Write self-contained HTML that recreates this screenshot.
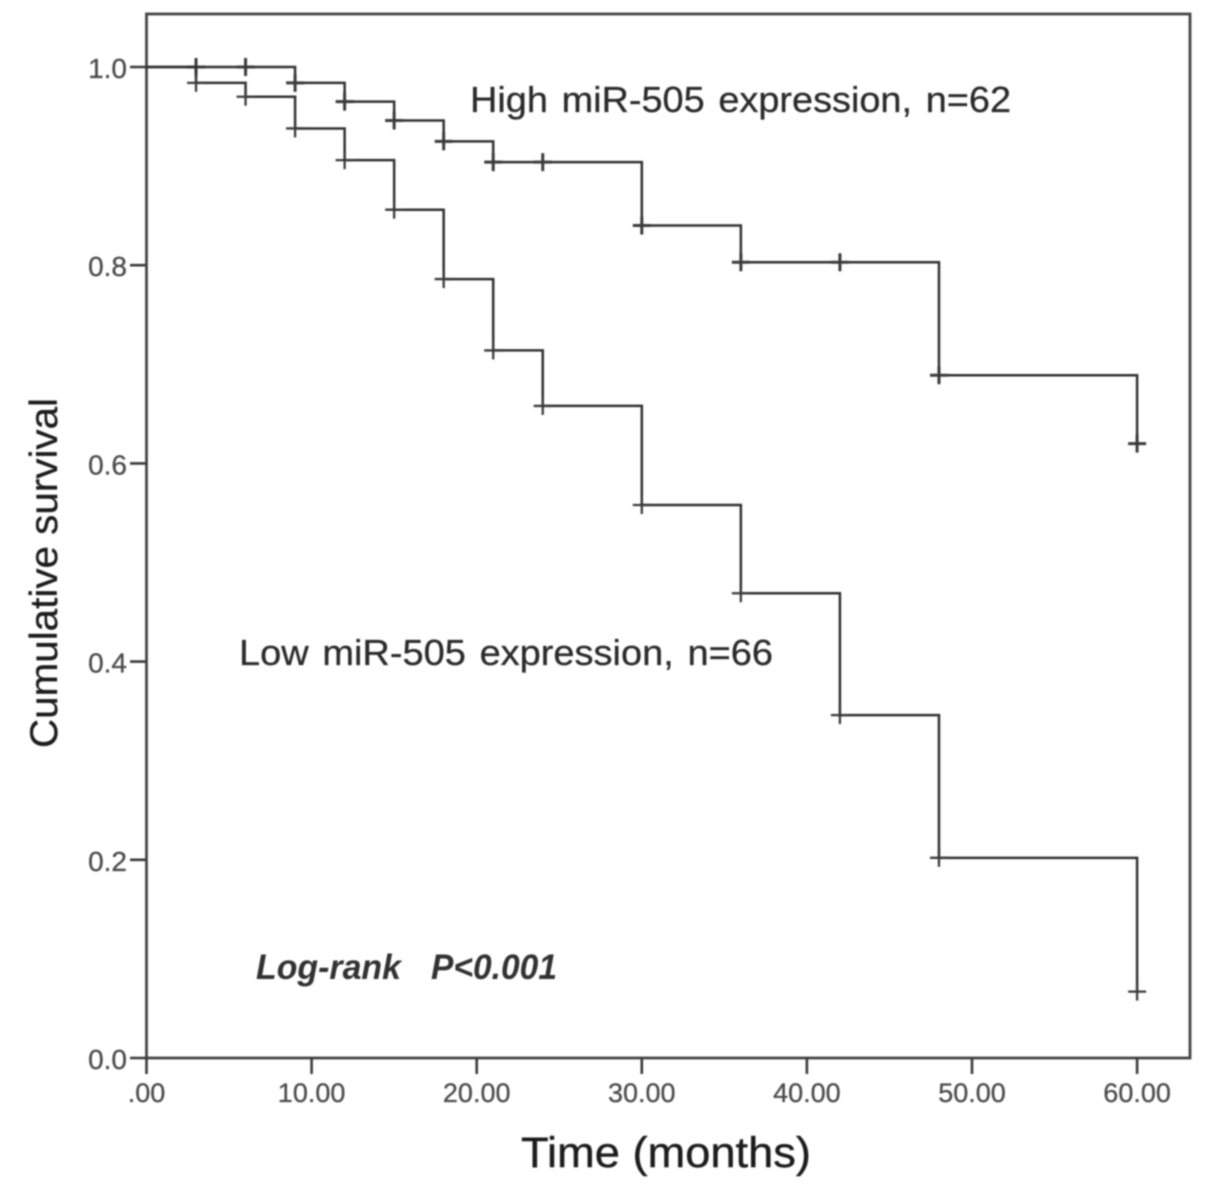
<!DOCTYPE html>
<html lang="en">
<head>
<meta charset="utf-8">
<title>Kaplan-Meier survival by miR-505 expression</title>
<style>
html,body{margin:0;padding:0;background:#fff;width:1205px;height:1187px;overflow:hidden}
svg{display:block}
text{font-family:"Liberation Sans",Arial,sans-serif}
</style>
</head>
<body>
<svg id="chart" width="1205" height="1187" viewBox="0 0 1205 1187" xmlns="http://www.w3.org/2000/svg">
  <defs>
    <filter id="soft" x="-5%" y="-5%" width="110%" height="110%"><feGaussianBlur stdDeviation="0.8"/></filter>
  </defs>
  <g id="root" filter="url(#soft)">
    <rect x="146.5" y="14" width="1043.5" height="1044" fill="none" stroke="#444" stroke-width="2.8"/>
    <g id="axes"></g>
    <g id="series"></g>
    <text x="470" y="112" font-size="36" word-spacing="3" fill="#2a2a2a" stroke="#2a2a2a" stroke-width="0.3" textLength="541" lengthAdjust="spacingAndGlyphs">High miR-505 expression, n=62</text>
    <text x="239" y="665" font-size="36" word-spacing="3" fill="#2a2a2a" stroke="#2a2a2a" stroke-width="0.3" textLength="534" lengthAdjust="spacingAndGlyphs">Low miR-505 expression, n=66</text>
    <text x="256" y="979" font-size="35" font-weight="bold" font-style="italic" fill="#333" textLength="145" lengthAdjust="spacingAndGlyphs">Log-rank</text>
    <text x="431" y="979" font-size="35" font-weight="bold" font-style="italic" fill="#333" textLength="126" lengthAdjust="spacingAndGlyphs">P&lt;0.001</text>
    <text x="666" y="1167" font-size="43" text-anchor="middle" fill="#1c1c1c" stroke="#1c1c1c" stroke-width="0.4" textLength="290" lengthAdjust="spacingAndGlyphs">Time (months)</text>
    <text transform="translate(57,573) rotate(-90)" font-size="39" text-anchor="middle" fill="#1c1c1c" stroke="#1c1c1c" stroke-width="0.3" textLength="350" lengthAdjust="spacingAndGlyphs">Cumulative survival</text>
  </g>
</svg>
<script>
const xTicks = [0, 10, 20, 30, 40, 50, 60];
const xTickLabels = [".00", "10.00", "20.00", "30.00", "40.00", "50.00", "60.00"];
const yTicks = [0, 0.2, 0.4, 0.6, 0.8, 1.0];
const yTickLabels = ["0.0", "0.2", "0.4", "0.6", "0.8", "1.0"];

const highTimes = [0, 9, 12, 15, 18, 21, 30, 36, 48, 60];
const highSurvival = [1.0, 0.984, 0.965, 0.946, 0.925, 0.904, 0.84, 0.803, 0.689, 0.62];
const highCensorTimes = [3, 6, 9, 12, 15, 18, 21, 24, 30, 36, 42, 48, 60];

const lowTimes = [0, 3, 6, 9, 12, 15, 18, 21, 24, 30, 36, 42, 48, 60];
const lowSurvival = [1.0, 0.984, 0.97, 0.938, 0.906, 0.856, 0.786, 0.714, 0.658, 0.558, 0.469, 0.346, 0.202, 0.067];
const lowCensorTimes = [3, 6, 9, 12, 15, 18, 21, 24, 30, 36, 42, 48, 60];

const NS = "http://www.w3.org/2000/svg";
const xScale = function (t) { return 146.5 + t * 16.51; };
const yScale = function (s) { return 1058 - s * 991; };
const axes = document.getElementById("axes");
const seriesLayer = document.getElementById("series");

function makeLine(x1, y1, x2, y2, width) {
  const l = document.createElementNS(NS, "line");
  l.setAttribute("x1", x1);
  l.setAttribute("y1", y1);
  l.setAttribute("x2", x2);
  l.setAttribute("y2", y2);
  l.setAttribute("stroke", "#3a3a3a");
  l.setAttribute("stroke-width", width);
  return l;
}

function makeLabel(x, y, anchor, content, size) {
  const t = document.createElementNS(NS, "text");
  t.setAttribute("x", x);
  t.setAttribute("y", y);
  t.setAttribute("text-anchor", anchor);
  t.setAttribute("font-size", size);
  t.setAttribute("fill", "#4c4c4c");
  t.setAttribute("stroke", "#4c4c4c");
  t.setAttribute("stroke-width", "0.3");
  t.textContent = content;
  return t;
}

xTicks.forEach(function (v, i) {
  const px = xScale(v);
  const tick = makeLine(px, 1058, px, 1074, 2.6);
  
  
  axes.appendChild(tick);
  const label = makeLabel(px, 1102, "middle", xTickLabels[i], 27);
  
  
  axes.appendChild(label);
});

yTicks.forEach(function (v, i) {
  const py = yScale(v);
  const tick = makeLine(130, py, 146.5, py, 2.6);
  
  
  axes.appendChild(tick);
  const label = makeLabel(127, py + 11, "end", yTickLabels[i], 28);
  
  
  axes.appendChild(label);
});

function survivalAt(times, values, t) {
  let s = values[0];
  times.forEach(function (tt, i) {
    if (tt <= t) { s = values[i]; }
  });
  return s;
}

function stepPath(times, values) {
  let d = "M" + xScale(times[0]) + " " + yScale(values[0]);
  for (let i = 1; i < times.length; i++) {
    d += " H" + xScale(times[i]) + " V" + yScale(values[i]);
  }
  return d;
}

function drawCurve(times, values, censors, group, markWidth) {
  const path = document.createElementNS(NS, "path");
  path.setAttribute("d", stepPath(times, values));
  path.setAttribute("fill", "none");
  path.setAttribute("stroke", "#333");
  path.setAttribute("stroke-width", "2.5");
  group.appendChild(path);
  censors.forEach(function (t) {
    const cx = xScale(t);
    const cy = yScale(survivalAt(times, values, t));
    group.appendChild(makeLine(cx - 9, cy, cx + 9, cy, markWidth));
    group.appendChild(makeLine(cx, cy - 9, cx, cy + 9, markWidth));
  });
}

const highGroup = document.createElementNS(NS, "g");


seriesLayer.appendChild(highGroup);
drawCurve(highTimes, highSurvival, highCensorTimes, highGroup, 3);

const lowGroup = document.createElementNS(NS, "g");


seriesLayer.appendChild(lowGroup);
drawCurve(lowTimes, lowSurvival, lowCensorTimes, lowGroup, 2.3);
</script>
</body>
</html>
